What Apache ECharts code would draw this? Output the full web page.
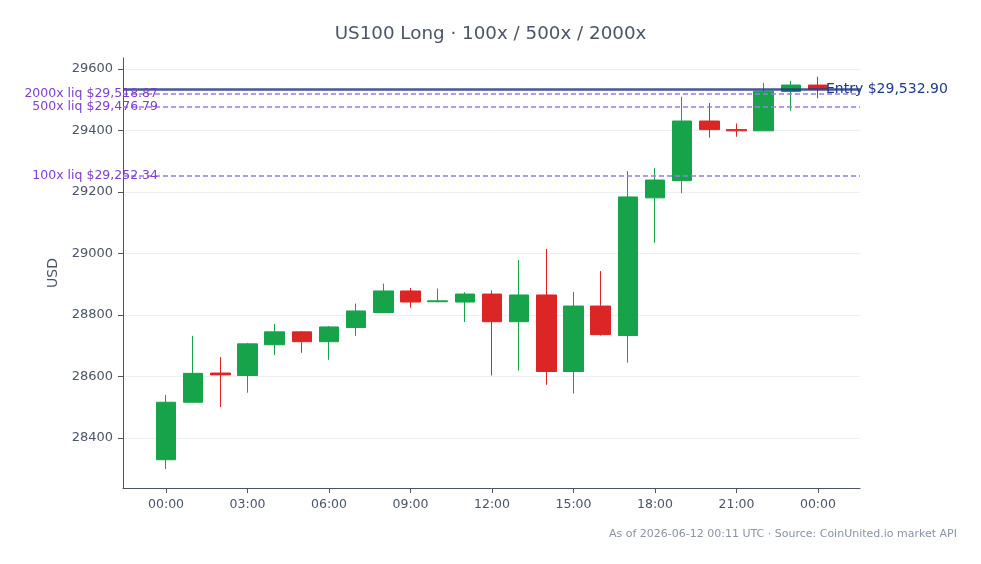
<!DOCTYPE html>
<html>
<head>
<meta charset="utf-8">
<script src="https://cdn.jsdelivr.net/npm/echarts@6/dist/echarts.min.js"></script>
<style>
  html, body { margin: 0; padding: 0; background: #fff; }
  #chart { width: 981px; height: 564px; }
</style>
</head>
<body>
<div id="chart"></div>
<script>
// hourly candles, index 0 = 00:00 .. 24 = 00:00 next day
const hours = ['00:00','01:00','02:00','03:00','04:00','05:00','06:00','07:00','08:00','09:00','10:00','11:00',
  '12:00','13:00','14:00','15:00','16:00','17:00','18:00','19:00','20:00','21:00','22:00','23:00','00:00']
const opens  = [28329, 28516, 28611, 28603, 28703, 28745, 28713, 28759, 28808, 28878, 28843, 28842,
  28868, 28778, 28865, 28616, 28829, 28733, 29181, 29237, 29431, 29403, 29399, 29527, 29548]
const closes = [28516, 28610, 28605, 28706, 28745, 28713, 28761, 28813, 28878, 28842, 28846, 28868,
  28778, 28865, 28616, 28829, 28736, 29184, 29239, 29431, 29403, 29399, 29528, 29548, 29535]
const lows   = [28299, 28516, 28500, 28547, 28670, 28677, 28654, 28732, 28808, 28824, 28841, 28777,
  28603, 28619, 28573, 28544, 28733, 28645, 29035, 29196, 29377, 29380, 29399, 29464, 29505]
const highs  = [28540, 28732, 28663, 28709, 28771, 28748, 28764, 28837, 28902, 28888, 28886, 28874,
  28880, 28979, 29015, 28875, 28943, 29268, 29278, 29510, 29490, 29423, 29555, 29561, 29575]

const xTicks = [0, 3, 6, 9, 12, 15, 18, 21, 24]
const yTicks = [28400, 28600, 28800, 29000, 29200, 29400, 29600]

const entryPrice = 29532.90
const liqLevels = [
  { name: '2000x', price: 29518.87 },
  { name: '500x', price: 29476.79 },
  { name: '100x', price: 29252.34 }
]

const upColor = '#16a34a'
const downColor = '#dc2626'
const axisColor = '#4a5568'
const fmt = v => '$' + v.toLocaleString('en-US', { minimumFractionDigits: 2, maximumFractionDigits: 2 })

const myChart = echarts.init(document.getElementById('chart'), null, { renderer: 'canvas' })

// liquidation levels (drawn under the candles)
const liqLines = liqLevels.map(l => ({
  yAxis: l.price,
  lineStyle: { color: '#9f7aea', type: [5, 3], width: 1.5 },
  label: {
    show: true, position: 'start', offset: [40, 0],
    formatter: l.name + ' liq ' + fmt(l.price),
    color: '#7e3fd0', fontSize: 12.5, fontFamily: 'DejaVu Sans'
  }
}))

myChart.setOption({
  animation: false,
  textStyle: { fontFamily: 'DejaVu Sans' },
  title: {
    text: 'US100 Long · 100x / 500x / 2000x',
    left: 'center', top: 20,
    textStyle: { color: axisColor, fontSize: 18.3, fontWeight: 'normal', fontFamily: 'DejaVu Sans' }
  },
  graphic: [{
    type: 'text', right: 24, top: 529,
    style: {
      text: 'As of 2026-06-12 00:11 UTC · Source: CoinUnited.io market API',
      fill: '#8a94a6', fontSize: 11, fontFamily: 'DejaVu Sans'
    }
  }],
  grid: { left: 123, right: 121, top: 58, bottom: 76 },
  xAxis: {
    type: 'value',
    min: -1.584, max: 25.547,
    axisLine: { onZero: false, lineStyle: { color: axisColor, width: 1 } },
    axisTick: { show: true, length: 5, customValues: xTicks, lineStyle: { color: axisColor } },
    axisLabel: {
      customValues: xTicks, margin: 10, color: axisColor, fontSize: 12.5,
      formatter: v => hours[Math.round(v)]
    },
    splitLine: { show: false }
  },
  yAxis: {
    type: 'value',
    min: 28237, max: 29636,
    name: 'USD', nameLocation: 'middle', nameGap: 61,
    nameTextStyle: { color: axisColor, fontSize: 14 },
    axisLine: { show: true, onZero: false, lineStyle: { color: axisColor, width: 1 } },
    axisTick: { show: true, length: 5, customValues: yTicks, lineStyle: { color: axisColor } },
    axisLabel: { customValues: yTicks, margin: 10, color: axisColor, fontSize: 13, formatter: v => String(v) },
    splitLine: { show: true, lineStyle: { color: '#edf0f3', width: 1 } }
  },
  series: [{
    type: 'line',
    z: 1,
    data: [],
    markLine: { silent: true, symbol: 'none', animation: false, data: liqLines }
  }, {
    type: 'candlestick',
    z: 2,
    barWidth: 20,
    encode: { x: 0, y: [1, 2, 3, 4] },
    data: hours.map((h, i) => [i, opens[i], closes[i], lows[i], highs[i]]),
    itemStyle: {
      color: upColor, color0: downColor,
      borderColor: upColor, borderColor0: downColor, borderWidth: 1
    },
    markLine: {
      silent: true, symbol: 'none', animation: false,
      data: [{
        yAxis: entryPrice,
        lineStyle: { color: 'rgba(30,58,138,0.85)', type: 'solid', width: 2.5 },
        label: {
          show: true, position: 'end', offset: [-39, 0],
          formatter: 'Entry ' + fmt(entryPrice),
          color: '#1e3a8a', fontSize: 14, fontFamily: 'DejaVu Sans'
        }
      }]
    }
  }]
})
</script>
</body>
</html>
